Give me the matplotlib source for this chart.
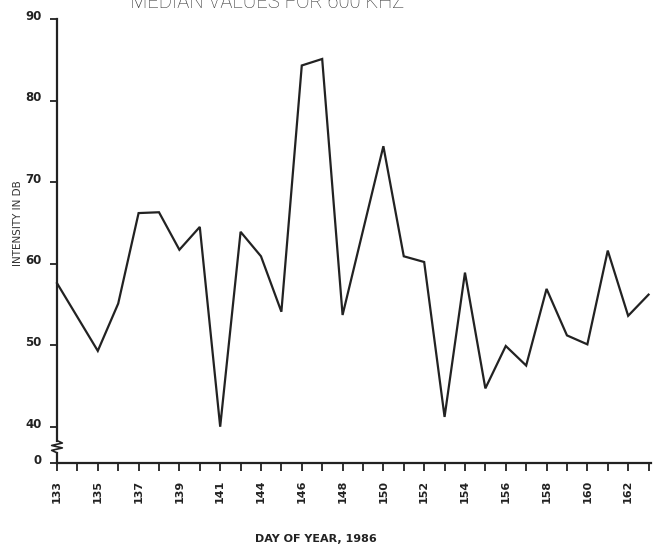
import matplotlib.pyplot as plt
from matplotlib.transforms import ScaledTranslation

# tick days along the time axis (day 143 is not on the axis)
tick_days = [133, 134, 135, 136, 137, 138, 139, 140, 141, 142, 144, 145,
             146, 147, 148, 149, 150, 151, 152, 153, 154, 155, 156, 157,
             158, 159, 160, 161, 162, 163]
label_days = [133, 135, 137, 139, 141, 144, 146, 148, 150, 152, 154, 156,
              158, 160, 162]

# median intensity (dB) per day
days = [133, 135, 136, 137, 138, 139, 140, 141, 142, 144, 145, 146, 147,
        148, 150, 151, 152, 153, 154, 155, 156, 157, 158, 159, 160, 161,
        162, 163]
intensity = [57.6, 49.3, 55.1, 66.2, 66.3, 61.7, 64.5, 40.0, 63.9, 60.9,
             54.1, 84.3, 85.1, 53.7, 74.4, 60.9, 60.2, 41.2, 58.9, 44.7,
             49.9, 47.5, 56.9, 51.2, 50.1, 61.6, 53.6, 56.2]

y_ticks = [40, 50, 60, 70, 80, 90]
y_zero = 35.55  # where "0" sits below the axis break

fig = plt.figure(figsize=(6.53, 5.44), dpi=100)
ax = fig.add_axes([57 / 653, 81 / 544, (651 - 57) / 653, (463 - 19) / 544])

xpos = [tick_days.index(d) for d in days]
ax.plot(xpos, intensity, color='#222222', lw=1.6, solid_joinstyle='miter',
        clip_on=False)

ax.set_xlim(0, 29.12)
ax.set_ylim(y_zero, 90)

for s in ['top', 'right']:
    ax.spines[s].set_visible(False)
for s in ['left', 'bottom']:
    ax.spines[s].set_linewidth(1.6)
    ax.spines[s].set_color('#222222')

# broken y axis: spine stops above the zigzag
ax.spines['left'].set_bounds(38.3, 90)
tr = ax.get_yaxis_transform()
ax.plot([0, 0], [y_zero, 36.8], color='#222222', lw=1.6, transform=tr,
        clip_on=False)
ax.plot([0, 0.009, -0.009, 0.009, -0.009, 0],
        [38.3, 38.0, 37.7, 37.4, 37.1, 36.8],
        color='#222222', lw=1.2, transform=tr, clip_on=False)

ax.set_xticks(range(len(tick_days)))
ax.set_xticklabels([str(d) if d in label_days else '' for d in tick_days],
                   rotation=90, fontsize=8, fontweight='bold')
ax.tick_params(axis='x', length=6, width=1.3, pad=6, colors='#222222')

ax.set_yticks([y_zero] + y_ticks)
ax.set_yticklabels(['0'] + [str(v) for v in y_ticks], fontsize=8.5,
                   fontweight='bold')
ax.tick_params(axis='y', length=5, width=1.3, pad=6, colors='#222222')
for lab in ax.get_yticklabels():
    lab.set_transform(lab.get_transform() +
                      ScaledTranslation(0, 3 / 72, fig.dpi_scale_trans))

fig.text(18 / 653, 1 - 223 / 544, 'INTENSITY IN DB', rotation=90,
         ha='center', va='center', fontsize=7.5, color='#333333')
fig.text(316 / 653, 1 - 539 / 544, 'DAY OF YEAR, 1986', ha='center',
         va='center', fontsize=8, fontweight='bold', color='#222222')
fig.text(267 / 653, 1 - 8 / 544, 'MEDIAN VALUES FOR 600 KHZ', ha='center',
         va='baseline', fontsize=14.5, family='Roboto', fontweight='light',
         color='#333333')

fig.savefig('out.png', dpi=100)
